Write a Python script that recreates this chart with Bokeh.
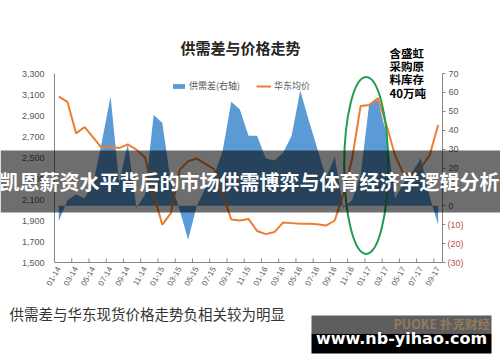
import numpy as np
from math import pi
from bokeh.plotting import figure
from bokeh.models import (Range1d, LinearAxis, FixedTicker, NumeralTickFormatter,
                          Legend, LegendItem, Label, BoxAnnotation)
from bokeh.embed import file_html
from bokeh.resources import INLINE

# ---------------- data ----------------
months = ["01-14", "02-14", "03-14", "04-14", "05-14", "06-14", "07-14", "08-14", "09-14", "10-14", "11-14", "12-14",
          "01-15", "02-15", "03-15", "04-15", "05-15", "06-15", "07-15", "08-15", "09-15", "10-15", "11-15", "12-15",
          "01-16", "02-16", "03-16", "04-16", "05-16", "06-16", "07-16", "08-16", "09-16", "10-16", "11-16", "12-16",
          "01-17", "02-17", "03-17", "04-17", "05-17", "06-17", "07-17", "08-17", "09-17"]

# 华东均价 (left axis)
price = [3080, 3030, 2730, 2790, 2690, 2590, 2605, 2590, 2625, 2575, 2500, 2150,
         1860, 1970, 2380, 2465, 2490, 2440, 2390, 2150, 1910, 1900, 1915, 1800,
         1770, 1790, 1880, 1875, 1870, 1868, 1865, 1852, 1900, 2150, 2480, 2990,
         3000, 3065, 2810, 2520, 2340, 2350, 2405, 2520, 2810]

# 供需差 (right axis)
gap = [-8, 3, 6, 4, 12, 34, 58, 12, 33, -1, 6, 48,
       44, 12, -2, -18, 0, 9, 16, 29, 55, 51, 37, 37,
       25, 24, 28, 37, 61, 45, 30, 15, 26, -1, 3, 16,
       54, 56, 38, 4, 12, 18, 25, 5, -10]

left_ticks = [1500, 1700, 1900, 2100, 2300, 2500, 2700, 2900, 3100, 3300]
right_ticks = [-30, -20, -10, 0, 10, 20, 30, 40, 50, 60, 70]
right_tick_labels = ["(30)", "(20)", "(10)", "0", "10", "20", "30", "40", "50", "60", "70"]

title_text = "供需差与价格走势"
note_lines = ["含盛虹", "采购原", "料库存", "40万吨"]
caption = "供需差与华东现货价格走势负相关较为明显"
banner_text = "凯恩薪资水平背后的市场供需博弈与体育经济学逻辑分析"

# ---------------- layout ----------------
W, H = 500, 362
FL, FR, FT, FB = 54, 442, 73, 262   # plot-area edges on the canvas
n = len(months)

# the frame covers the whole canvas; axes are pinned at the plot-area edges
pxx = (FR - FL) / n
xr = Range1d(-0.5 - FL / pxx, n - 0.5 + (W - FR) / pxx)
pyl = (FB - FT) / (left_ticks[-1] - left_ticks[0])
yr = Range1d(left_ticks[0] - (H - FB) / pyl, left_ticks[-1] + FT / pyl)
pyr = (FB - FT) / (right_ticks[-1] - right_ticks[0])
yrr = Range1d(right_ticks[0] - (H - FB) / pyr, right_ticks[-1] + FT / pyr)


def sx(x):  # canvas x -> screen x
    return x


def sy(y):  # canvas y (from top) -> screen y (from bottom)
    return H - y


CJK = "Noto Sans CJK SC"
NUM = "Liberation Sans"
GRAY = "#595959"
AXC = "#868686"
BLUE = "#5B9BD5"
ORANGE = "#ED7D31"

idx = np.arange(n)

p = figure(width=W, height=H, output_backend="svg", toolbar_location=None,
           x_range=xr, y_range=yr,
           min_border_left=0, min_border_right=0, min_border_top=0, min_border_bottom=0)
p.extra_y_ranges = {"right": yrr}
p.xgrid.visible = False
p.ygrid.visible = False
p.outline_line_color = None
p.background_fill_color = "white"
p.border_fill_color = "white"

# left axis
ya = p.yaxis[0]
ya.fixed_location = -0.5
ya.bounds = (left_ticks[0], left_ticks[-1])
ya.ticker = FixedTicker(ticks=left_ticks)
ya.formatter = NumeralTickFormatter(format="0,0")
ya.major_tick_out = 0
ya.major_tick_in = 0
ya.minor_tick_out = 0
ya.minor_tick_in = 0
ya.axis_line_color = AXC
ya.major_label_text_font = NUM
ya.major_label_text_font_size = "9px"
ya.major_label_text_color = GRAY
ya.major_label_standoff = 10

# bottom axis
xa = p.xaxis[0]
xa.fixed_location = left_ticks[0]
xa.bounds = (-0.5, n - 0.5)
label_pos = [int(i) for i in idx[::2]]
xa.ticker = FixedTicker(ticks=label_pos)
xa.major_label_overrides = {i: months[i] for i in label_pos}
xa.major_label_orientation = pi / 3
xa.major_tick_out = 0
xa.major_tick_in = 0
xa.minor_tick_out = 0
xa.minor_tick_in = 0
xa.axis_line_color = AXC
xa.major_label_text_font = NUM
xa.major_label_text_font_size = "8px"
xa.major_label_text_color = GRAY
xa.major_label_standoff = 5

# right axis
ra = LinearAxis(y_range_name="right", ticker=FixedTicker(ticks=right_ticks),
                fixed_location=n - 0.5, bounds=(right_ticks[0], right_ticks[-1]))
ra.major_label_overrides = {t: (lab if t >= 0 else " ") for t, lab in zip(right_ticks, right_tick_labels)}
ra.major_tick_out = 3
ra.major_tick_in = 0
ra.minor_tick_out = 0
ra.minor_tick_in = 0
ra.axis_line_color = AXC
ra.major_tick_line_color = AXC
ra.major_label_text_font = NUM
ra.major_label_text_font_size = "9px"
ra.major_label_text_color = GRAY
ra.major_label_standoff = 3
p.add_layout(ra, "right")
for t, lab in zip(right_ticks, right_tick_labels):
    if t < 0:
        p.add_layout(Label(x=sx(447), y=t, x_units="screen", y_units="data", y_range_name="right",
                           text=lab, text_font=NUM, text_font_size="9px", text_color="#C0504D",
                           text_baseline="middle", text_align="left"))

# category tick marks (between bands, pointing inward)
tick_len = 4 / pyl
tick_x = idx[1::2] + 0.5
p.segment(x0=tick_x, y0=left_ticks[0], x1=tick_x, y1=left_ticks[0] + tick_len,
          line_color=AXC, line_width=1)

# series
area = p.varea(x=idx, y1=0, y2=gap, y_range_name="right", fill_color=BLUE)
line = p.line(x=idx, y=price, line_color=ORANGE, line_width=2)

# green ellipse highlight
ell_x, ell_y, ell_w, ell_h = 35.65, 2424, 5.1, 1686
p.ellipse(x=ell_x, y=ell_y, width=ell_w, height=ell_h, fill_color=None,
          line_color="#1E9E4E", line_width=2)

legend = Legend(items=[LegendItem(label="供需差(右轴)", renderers=[area]),
                       LegendItem(label="华东均价", renderers=[line])],
                orientation="horizontal", location=(sx(171), sy(92)),
                label_text_font=CJK, label_text_font_size="9px", label_text_color=GRAY,
                glyph_width=15, glyph_height=6, label_height=10, label_standoff=3,
                spacing=16, padding=0, margin=0,
                background_fill_alpha=0, border_line_alpha=0)
p.add_layout(legend)

# title
p.add_layout(Label(x=sx(240), y=sy(47), x_units="screen", y_units="screen", text=title_text,
                   text_font=CJK, text_font_style="bold", text_font_size="15px",
                   text_color="#262626", text_align="center", text_baseline="middle"))

# annotation note
for k, t in enumerate(note_lines):
    p.add_layout(Label(x=sx(389), y=sy(52 + 13.4 * k), x_units="screen", y_units="screen", text=t,
                       text_font=CJK, text_font_style="bold", text_font_size="11.5px",
                       text_color="black", text_align="left", text_baseline="middle"))

# caption
p.add_layout(Label(x=sx(9), y=sy(313), x_units="screen", y_units="screen", text=caption,
                   text_font=CJK, text_font_size="14.5px", text_color="#333333",
                   text_align="left", text_baseline="middle"))

# banner overlay
p.add_layout(BoxAnnotation(left=sx(0), right=sx(W), top=sy(150), bottom=sy(212),
                           left_units="screen", right_units="screen",
                           top_units="screen", bottom_units="screen",
                           fill_color="black", fill_alpha=0.57, line_alpha=0, level="overlay"))
p.add_layout(Label(x=sx(249), y=sy(181), x_units="screen", y_units="screen", text=banner_text,
                   text_font=CJK, text_font_style="bold", text_font_size="20px",
                   text_color="white", text_align="center", text_baseline="middle", level="overlay"))

# watermark box
p.add_layout(BoxAnnotation(left=sx(311), right=sx(491), top=sy(315), bottom=sy(333),
                           left_units="screen", right_units="screen",
                           top_units="screen", bottom_units="screen",
                           fill_color="#5E5E5E", fill_alpha=1, line_alpha=0, level="overlay"))
p.add_layout(Label(x=sx(393), y=sy(323), x_units="screen", y_units="screen", text="PUOKE 扑克财经",
                   text_font=CJK, text_font_style="bold", text_font_size="12.5px",
                   text_color="#A4825C", text_alpha=0.8, text_align="left", text_baseline="middle",
                   level="overlay"))
p.add_layout(BoxAnnotation(left=sx(311), right=sx(491), top=sy(333), bottom=sy(353),
                           left_units="screen", right_units="screen",
                           top_units="screen", bottom_units="screen",
                           fill_color="black", fill_alpha=1, line_alpha=0, level="overlay"))
p.add_layout(Label(x=sx(401), y=sy(338), x_units="screen", y_units="screen", text="www.nb-yihao.com",
                   text_font="DejaVu Sans", text_font_style="bold", text_font_size="16px",
                   text_color="white", text_align="center", text_baseline="middle", level="overlay"))

open("out.html", "w").write(file_html(p, INLINE))
